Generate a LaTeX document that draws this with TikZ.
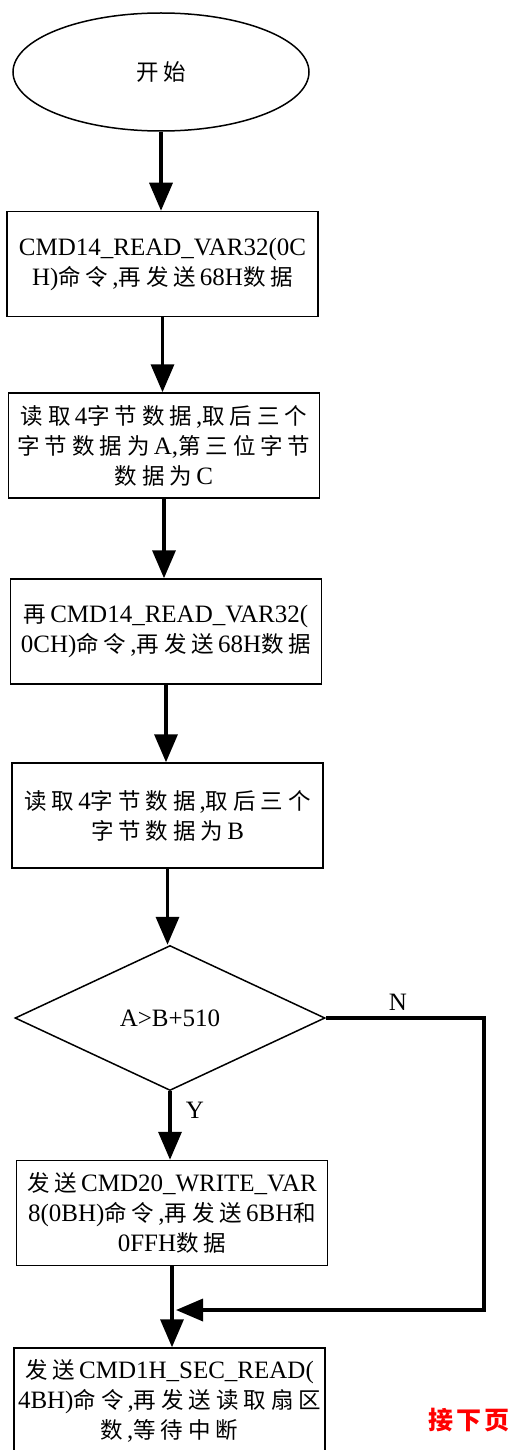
\documentclass[tikz,border=0pt]{standalone}
\usepackage{fontspec}
\setmainfont{Liberation Serif}
\newfontfamily\cjkfont[Scale=0.9,LetterSpace=22]{Noto Sans CJK SC}
\newfontfamily\cjkred[LetterSpace=12]{Noto Sans CJK SC}
\newcommand\zh[1]{{\cjkfont #1}\kern4pt}
\newcommand\zhe[1]{{\cjkfont #1}}
\usetikzlibrary{shapes.geometric,arrows.meta}
\begin{document}
\begin{tikzpicture}[x=1pt,y=-1pt,
  every node/.style={font=\fontsize{25}{30}\selectfont},
  procbox/.style={draw,line width=1.5pt,rectangle,minimum width=311pt,minimum height=105pt,align=center,inner sep=2pt},
  flow/.style={line width=3.5pt,-{Triangle[width=23pt,length=28pt]}}]
\useasboundingbox (0,0) rectangle (509,1450);
\clip (0,0) rectangle (509,1450);
\node[draw,ellipse,line width=1.5pt,minimum width=296pt,minimum height=118pt,inner sep=0pt] (start) at (161,72) {\zhe{开始}};
\node[procbox] (b1) at (162.5,264) {CMD14\_READ\_VAR32(0C\\H)\zh{命令},\zh{再发送}68H\zhe{数据}};
\node[procbox] (b2) at (164,445.5) {\zh{读取}4\zh{字节数据},\zhe{取后三个}\\\zh{字节数据为}A,\zhe{第三位字节}\\\zh{数据为}C};
\node[procbox] (b3) at (166,631.5) {\zh{再}CMD14\_READ\_VAR32(\\0CH)\zh{命令},\zh{再发送}68H\zhe{数据}};
\node[procbox] (b4) at (167.5,815.5) {\zh{读取}4\zh{字节数据},\zhe{取后三个}\\\zh{字节数据为}B};
\node[draw,diamond,line width=1.5pt,minimum width=310pt,minimum height=145pt,inner sep=0pt,aspect=2.14] (d) at (170,1018) {A>B+510};
\node[procbox] (b5) at (172,1213) {\zh{发送}CMD20\_WRITE\_VAR\\8(0BH)\zh{命令},\zh{再发送}6BH\zhe{和}\\0FFH\zhe{数据}};
\node[procbox] (b6) at (169.5,1400.5) {\zh{发送}CMD1H\_SEC\_READ(\\4BH)\zh{命令},\zhe{再发送读取扇区}\\\zh{数},\zhe{等待中断}};
\node (ylab) at (195,1110) {Y};
\node (nlab) at (398,1002) {N};
\node[anchor=west,inner sep=0pt,text=red] (next) at (428,1420) {\cjkred\fontsize{25}{28}\selectfont\bfseries 接下页};
\coordinate (c1) at (484,1018);
\coordinate (c2) at (484,1310);
\coordinate (m) at (176,1310);
\draw[flow] (start.south) -- (start.south |- b1.north);
\draw[flow] (b1.south) -- (b1.south |- b2.north);
\draw[flow] (b2.south) -- (b2.south |- b3.north);
\draw[flow] (b3.south) -- (b3.south |- b4.north);
\draw[flow] (b4.south) -- (b4.south |- d.north);
\draw[flow] (d.south) -- (d.south |- b5.north);
\draw[flow] (b5.south) -- (b5.south |- b6.north);
\draw[line width=3.5pt,-{Triangle[width=22pt,length=27pt]}] (d.east) -- (c1) -- (c2) -- (m);
\end{tikzpicture}
\end{document}
